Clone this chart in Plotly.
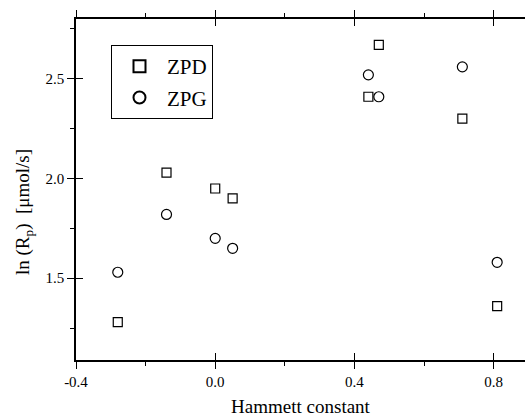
import plotly.graph_objects as go

# Data
hammett = [-0.28, -0.14, 0.00, 0.05, 0.44, 0.47, 0.71, 0.81]
zpd = [1.28, 2.03, 1.95, 1.90, 2.41, 2.67, 2.30, 1.36]
zpg_x = [-0.28, -0.14, 0.00, 0.05, 0.44, 0.47, 0.71, 0.81]
zpg = [1.53, 1.82, 1.70, 1.65, 2.52, 2.41, 2.56, 1.58]

x_ticks = [-0.4, 0.0, 0.4, 0.8]
x_ticklabels = ["-0.4", "0.0", "0.4", "0.8"]
y_ticks = [1.5, 2.0, 2.5]
y_ticklabels = ["1.5", "2.0", "2.5"]

X_RANGE = [-0.4, 0.89]
Y_RANGE = [1.09, 2.80]
FONT = "Liberation Serif, Times New Roman, serif"

fig = go.Figure()
fig.add_trace(go.Scatter(
    x=hammett, y=zpd, mode="markers", name="ZPD", legendgroup="a",
    marker=dict(symbol="square-open", size=9, color="black", line=dict(width=1.2, color="black")),
))
fig.add_trace(go.Scatter(
    x=zpg_x, y=zpg, mode="markers", name="ZPG", legendgroup="b",
    marker=dict(symbol="circle-open", size=10, color="black", line=dict(width=1.2, color="black")),
))
# invisible trace to carry inside-tick overlay axes
fig.add_trace(go.Scatter(x=[X_RANGE[0]], y=[Y_RANGE[0]], xaxis="x2", yaxis="y2",
                         mode="markers", marker=dict(opacity=0), showlegend=False, hoverinfo="skip"))

fig.update_layout(
    width=525, height=417,
    margin=dict(l=76, r=0, t=19, b=57, autoexpand=False),
    paper_bgcolor="white", plot_bgcolor="white",
    font=dict(family=FONT, color="black", size=14),
    showlegend=True,
    legend=dict(
        x=(111 - 76) / 449, y=(360 - 45) / 341, xanchor="left", yanchor="top",
        bordercolor="black", borderwidth=1, bgcolor="white",
        font=dict(family=FONT, size=21, color="black"),
        itemsizing="constant", itemwidth=45, tracegroupgap=1,
    ),
    xaxis=dict(
        range=X_RANGE, showgrid=False, zeroline=False, automargin=False,
        showline=True, linecolor="black", linewidth=1.5, mirror="ticks",
        ticks="outside", ticklen=7, tickwidth=1.2, tickcolor="black",
        tickvals=x_ticks, ticktext=x_ticklabels,
        tickfont=dict(family=FONT, size=15),
        minor=dict(tickvals=[-0.2, 0.2, 0.6], ticks="outside", ticklen=4, tickwidth=1, tickcolor="black"),
        title=dict(text="Hammett constant", font=dict(family=FONT, size=19), standoff=12),
    ),
    yaxis=dict(
        range=Y_RANGE, showgrid=False, zeroline=False, automargin=False,
        showline=True, linecolor="black", linewidth=1.5, mirror=False,
        ticks="outside", ticklen=7, tickwidth=1.2, tickcolor="black",
        tickvals=y_ticks, ticktext=y_ticklabels,
        tickfont=dict(family=FONT, size=15),
        minor=dict(tickvals=[1.25, 1.75, 2.25, 2.75], ticks="outside", ticklen=4, tickwidth=1, tickcolor="black"),
    ),
    xaxis2=dict(
        range=X_RANGE, overlaying="x", anchor="y2", side="bottom", automargin=False,
        showgrid=False, zeroline=False, showline=False, mirror="ticks",
        ticks="inside", ticklen=7, tickwidth=1.2, tickcolor="black",
        tickvals=x_ticks, showticklabels=False,
    ),
    yaxis2=dict(
        range=Y_RANGE, overlaying="y", anchor="x2", side="left", automargin=False,
        showgrid=False, zeroline=False, showline=False,
        ticks="inside", ticklen=7, tickwidth=1.2, tickcolor="black",
        tickvals=y_ticks, showticklabels=False,
    ),
    annotations=[dict(
        text="ln (R<sub>p</sub>)  [μmol/s]", textangle=-90,
        xref="paper", yref="paper",
        x=(24 - 76) / 449, y=(360 - 212) / 341,
        xanchor="center", yanchor="middle", showarrow=False,
        font=dict(family=FONT, size=19, color="black"),
    )],
)

fig.write_html("out.html", post_script="document.body.style.margin='0px';",
               config={"displayModeBar": False})
